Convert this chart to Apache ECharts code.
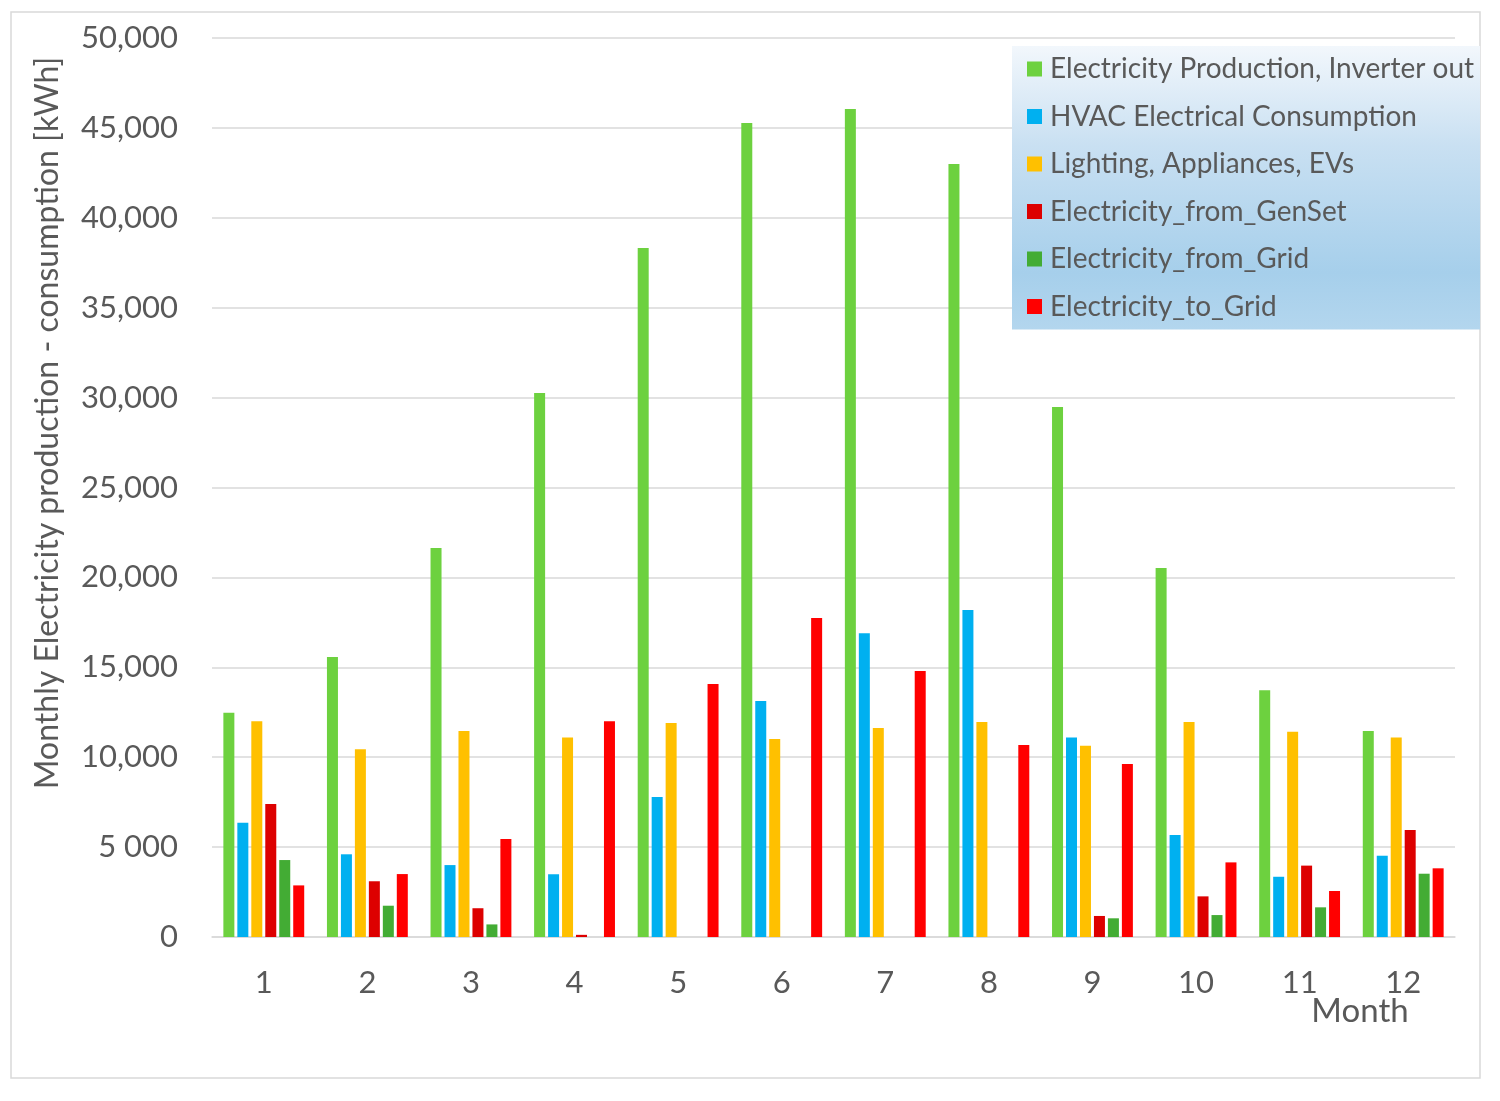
<!DOCTYPE html>
<html>
<head>
<meta charset="utf-8">
<script src="https://cdn.jsdelivr.net/npm/echarts@6/dist/echarts.min.js"></script>
<style>html,body{margin:0;padding:0;background:#fff}#c{width:1500px;height:1101px}</style>
</head>
<body>
<div id="c"></div>
<script>
const months = ['1','2','3','4','5','6','7','8','9','10','11','12'];
const production = [12470, 15570, 21630, 30260, 38320, 45270, 46050, 42990, 29480, 20520, 13720, 11460];
const hvac       = [6360, 4600, 4000, 3490, 7790, 13130, 16900, 18190, 11100, 5670, 3350, 4520];
const lighting   = [12000, 10440, 11460, 11100, 11900, 11010, 11620, 11960, 10640, 11960, 11420, 11100];
const genset     = [7400, 3100, 1600, 120, 0, 0, 0, 0, 1170, 2260, 3970, 5950];
const fromGrid   = [4280, 1740, 700, 0, 0, 0, 0, 0, 1040, 1220, 1650, 3520];
const toGrid     = [2870, 3500, 5450, 12000, 14070, 17740, 14790, 10680, 9620, 4150, 2560, 3820];
const yTicks = {0:'0', 5000:'5 000', 10000:'10,000', 15000:'15,000', 20000:'20,000', 25000:'25,000', 30000:'30,000', 35000:'35,000', 40000:'40,000', 45000:'45,000', 50000:'50,000'};
const seriesNames = ['Electricity Production, Inverter out','HVAC Electrical Consumption','Lighting, Appliances, EVs','Electricity_from_GenSet','Electricity_from_Grid','Electricity_to_Grid'];
const seriesData = [production, hvac, lighting, genset, fromGrid, toGrid];
const colors = ['#6DD13F','#00B0F0','#FFC000','#DD0000','#43AC34','#FF0000'];

const FONT = 'Lato';
const TXT = '#595959';
const chart = echarts.init(document.getElementById('c'));
chart.setOption({
  animation: false,
  color: colors,
  textStyle: {fontFamily: FONT},
  grid: {left: 212, right: 45, top: 38, bottom: 164},
  legend: {
    orient: 'vertical',
    left: 1012, top: 46,
    padding: [9, 6, 9, 15],
    itemWidth: 15, itemHeight: 15,
    itemGap: 19.5,
    icon: 'rect',
    backgroundColor: {type:'linear', x:0, y:0, x2:0, y2:1, colorStops:[
      {offset:0, color:'#F2F7FC'}, {offset:0.35, color:'#C9E0F2'}, {offset:0.8, color:'#A6CFEB'}, {offset:1, color:'#B3D6EE'}]},
    textStyle: {fontFamily: FONT, fontSize: 28, color: TXT, lineHeight: 28, padding:[0,0,0,3]},
    data: seriesNames
  },
  xAxis: {
    type: 'category', data: months,
    axisLine: {lineStyle: {color: '#D9D9D9', width: 1.5}},
    axisTick: {show: false},
    axisLabel: {fontFamily: FONT, fontSize: 31, color: TXT, margin: 30}
  },
  yAxis: {
    type: 'value', min: 0, max: 50000, interval: 5000,
    axisLine: {show: false}, axisTick: {show: false},
    splitLine: {lineStyle: {color: '#D9D9D9', width: 1.5}},
    axisLabel: {fontFamily: FONT, fontSize: 31, color: TXT, margin: 34,
      formatter: v => yTicks[v] !== undefined ? yTicks[v] : String(v)}
  },
  graphic: [
    {type:'rect', shape:{x:11, y:12, width:1469, height:1066}, style:{fill:'none', stroke:'#D9D9D9', lineWidth:1.5}, z:-1, silent:true},
    {type:'text', x:48, y:423, rotation: Math.PI/2, style:{text:'Monthly Electricity production - consumption [kWh]', font:'32px Lato', fill:TXT, align:'center', verticalAlign:'middle'}},
    {type:'text', x:1360, y:1011, style:{text:'Month', font:'33px Lato', fill:TXT, align:'center', verticalAlign:'middle'}}
  ],
  series: seriesNames.map((n, i) => ({
    name: n, type: 'bar', data: seriesData[i],
    barWidth: 11, barGap: '27%',
    itemStyle: {color: colors[i]}
  }))
});
</script>
</body>
</html>
